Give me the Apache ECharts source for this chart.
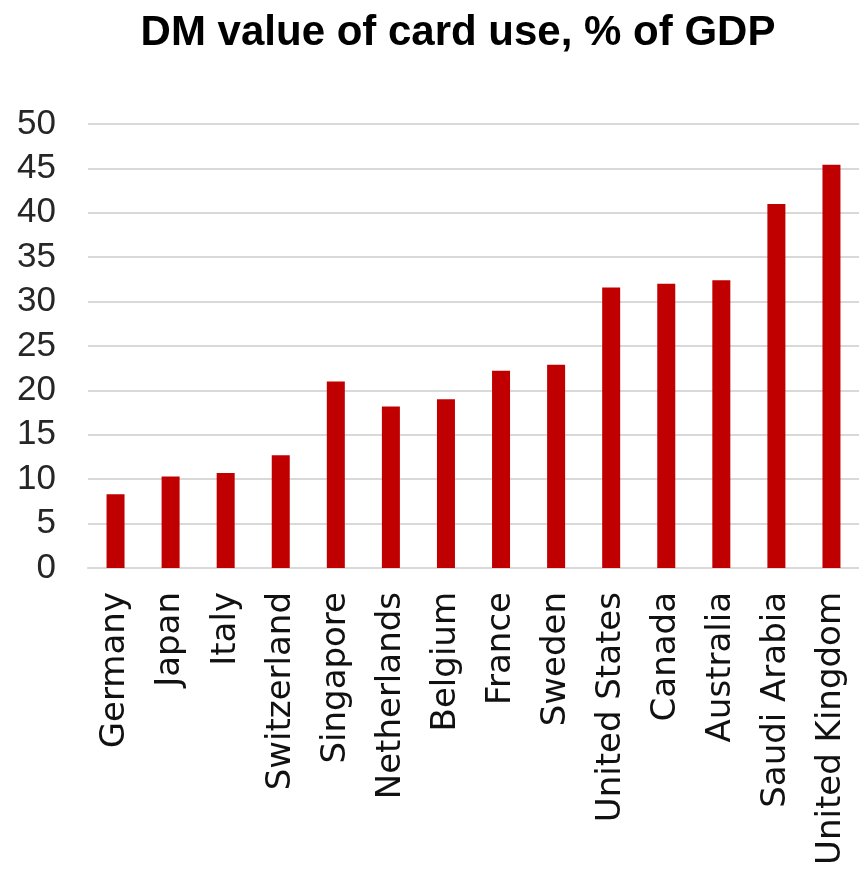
<!DOCTYPE html>
<html>
<head>
<meta charset="utf-8">
<script src="https://cdn.jsdelivr.net/npm/echarts@6/dist/echarts.min.js"></script>
<style>
  html, body { margin: 0; padding: 0; background: #ffffff; }
  #chart { width: 859px; height: 869px; }
</style>
</head>
<body>
<div id="chart"></div>
<script>
// Value of card use as a share of GDP (%), sorted roughly from low to high
const countries = ['Germany', 'Japan', 'Italy', 'Switzerland', 'Singapore', 'Netherlands', 'Belgium',
  'France', 'Sweden', 'United States', 'Canada', 'Australia', 'Saudi Arabia', 'United Kingdom'];
const cardUsePct = [8.3, 10.3, 10.7, 12.7, 21.0, 18.2, 19.0, 22.2, 22.9, 31.6, 32.0, 32.4, 41.0, 45.4];
const yTicks = [0, 5, 10, 15, 20, 25, 30, 35, 40, 45, 50];

const chart = echarts.init(document.getElementById('chart'), null, { renderer: 'canvas' });
chart.setOption({
  backgroundColor: '#ffffff',
  animation: false,
  title: {
    text: 'DM value of card use, % of GDP',
    left: 453,
    top: 7,
    textAlign: 'center',
    textStyle: {
      fontFamily: '"Liberation Sans", sans-serif',
      fontWeight: 'bold',
      fontSize: 42,
      color: '#000000'
    }
  },
  grid: { left: 88, right: -11, top: 124, bottom: 869 - 568, containLabel: false },
  xAxis: {
    type: 'category',
    data: countries,
    axisLine: { show: true, lineStyle: { color: '#d9d9d9', width: 2 } },
    axisTick: { show: false },
    axisLabel: {
      rotate: 90,
      interval: 0,
      margin: 24,
      fontFamily: '"DejaVu Sans", sans-serif',
      fontSize: 34,
      color: '#111111'
    }
  },
  yAxis: {
    type: 'value',
    min: yTicks[0],
    max: yTicks[yTicks.length - 1],
    interval: 5,
    axisLine: { show: false },
    axisTick: { show: false },
    axisLabel: {
      margin: 32,
      padding: [0, 0, 8, 0],
      fontFamily: '"Liberation Sans", sans-serif',
      fontSize: 35,
      color: '#262626'
    },
    splitLine: { lineStyle: { color: '#d9d9d9', width: 2 } }
  },
  series: [{
    type: 'bar',
    data: cardUsePct,
    barWidth: 18,
    itemStyle: { color: '#c00000' }
  }]
});
</script>
</body>
</html>
